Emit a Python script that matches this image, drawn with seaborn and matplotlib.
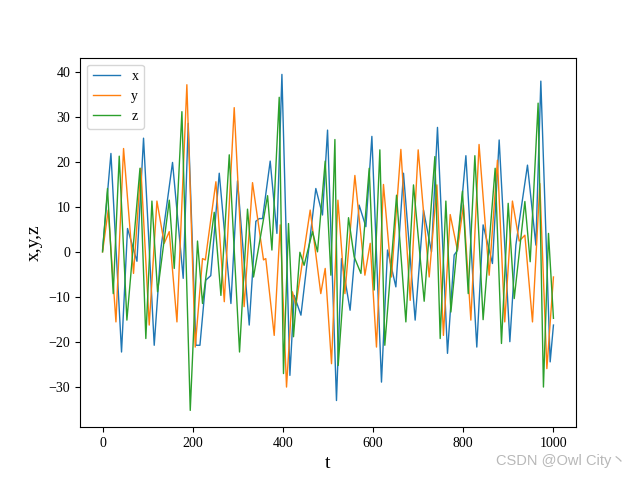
import matplotlib
matplotlib.use("Agg")
import matplotlib.pyplot as plt
import seaborn as sns
import pandas as pd

# Values (turning points of each series)
t_x = [0, 18.6, 42.1, 55.4, 76.3, 90.9, 114.6, 129.5, 155.2, 178.9, 190, 207, 216, 229, 240,
       258.8, 284.7, 299.3, 325.3, 340, 347.5, 354.8, 371.8, 386.7, 397.8, 415.5, 425, 440,
       473, 487.8, 499, 518.8, 530, 549, 569, 584, 597.3, 618.6, 632, 650.5, 667.4, 693.3,
       711.8, 729.5, 742.8, 765, 779.8, 787, 805.8, 830, 844, 864.7, 879.6, 903.3, 916.6,
       942.4, 961, 972, 992.7, 1000]
x_vals = [0.4, 21.9, -22.3, 5.2, -2.1, 25.3, -20.8, 0.8, 19.9, -5.9, 28.6, -20.8, -20.8, -6.3, -5.3,
          17.5, -11.5, 15.8, -16.3, 6.8, 7.4, 7.4, 20.2, 4.1, 39.5, -27.5, -9.7, -14.1,
          14.1, 8.2, 27.1, -33.1, -1.5, -13.0, 10.4, 5.6, 25.7, -29.0, 0.4, -7.8, 17.5, -15.2,
          9.3, 0.0, 27.7, -22.6, -0.7, 0.3, 21.4, -21.2, 6.0, -2.6, 24.9, -20.0, 1.5,
          19.3, 1.5, 38.0, -24.5, -16.3]

t_y = [0, 12.6, 29.7, 46.6, 68.7, 85, 103.5, 120.6, 136.8, 147.9, 165, 187, 205.5, 221.7, 228,
       251.4, 270, 292, 314, 332.6, 357, 362, 380.7, 394, 408, 421, 428.8, 460.5, 484, 493.8,
       507.8, 522, 537.5, 559.6, 581.8, 593.6, 607.5, 623, 640.8, 661.6, 682.3, 700, 724.4,
       741.5, 756, 771, 787, 800.4, 816.8, 835, 857.4, 875.8, 892, 909, 924, 936.6, 953.5,
       969.8, 985.4, 1000]
y_vals = [0.0, 9.3, -15.6, 23.0, -4.8, 18.6, -16.3, 11.3, 1.9, 4.5, -15.6, 37.2, -21.2, -1.5, -1.8,
          15.6, -11.1, 32.1, -12.2, 15.4, -1.8, -1.5, -18.6, 6.0, -30.1, -8.9, -11.9, 9.3, -9.3, -3.7,
          -24.9, 11.5, -9.3, 17.0, -5.2, 1.9, -21.2, 15.0, -5.6, 22.8, -10.8, 22.7, -5.6,
          14.9, -18.6, 8.3, 0.4, 10.4, -15.2, 23.9, -5.2, 20.4, -15.6, 11.3, 2.4, 3.7, -15.6,
          15.2, -26.0, -5.6]

t_z = [0, 11, 23.7, 37, 54, 83, 96, 109.5, 122, 148, 159, 176, 194.5, 210.6, 221.7, 247.7,
       262.5, 281, 303.8, 321.5, 334.8, 366, 375.6, 391.8, 401.3, 412.4, 423.5, 437.7, 447,
       465.6, 476.7, 493.8, 506.4, 515.3, 522.6, 545.5, 558, 573, 591.4, 602.4, 615, 626, 652,
       672.7, 689.6, 713.3, 737, 748.8, 761.4, 772.5, 798.2, 811, 825.7, 844, 870.7, 884.7,
       899.6, 913, 936.6, 948.4, 966, 977.8, 989, 1000]
z_vals = [0.0, 14.1, -9.3, 21.3, -15.2, 18.6, -19.3, 11.3, -8.9, 11.5, -3.7, 31.2, -35.3, 2.4, -11.5, 8.8,
          -9.7, 21.6, -22.3, 9.5, -5.6, 12.5, 0.4, 34.4, -27.1, 6.3, -18.9, -0.1, -3.0,
          4.5, 0.0, 20.2, -5.2, 25.0, -25.3, 7.6, -1.1, -4.8, 18.6, -8.5, 22.7, -20.8, 12.6,
          -15.6, 14.9, -11.0, 21.2, -19.3, 11.3, -13.4, 13.5, -9.3, 21.4, -15.1, 18.6, -20.4,
          10.8, -10.4, 11.2, -2.2, 33.1, -30.1, 4.1, -14.8]

series_names = ["x", "y", "z"]
colors = ["#1f77b4", "#ff7f0e", "#2ca02c"]

plt.rcParams["font.family"] = ["Liberation Serif", "DejaVu Serif"]

fig, ax = plt.subplots(figsize=(6.4, 4.8), dpi=100)

for name, tt, vv, c in zip(series_names, [t_x, t_y, t_z], [x_vals, y_vals, z_vals], colors):
    df = pd.DataFrame({"t": tt, "v": vv})
    sns.lineplot(data=df, x="t", y="v", ax=ax, color=c, linewidth=1.0,
                 label=name, estimator=None, sort=False)

ax.set_xlabel("t", fontsize=14)
ax.set_ylabel("x,y,z", fontsize=14)
ax.tick_params(labelsize=10)
ax.legend(loc="upper left", fontsize=10)

fig.text(0.978, 0.025, "CSDN @Owl City丶", ha="right", va="bottom", fontsize=10.5,
         color="#b8b8b8", family=["Liberation Sans", "Noto Sans CJK SC"])

fig.savefig("out.png", dpi=100)
